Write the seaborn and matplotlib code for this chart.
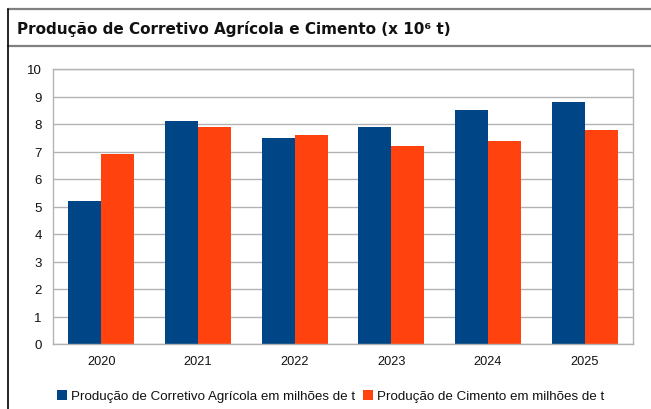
import matplotlib
matplotlib.use("Agg")
import matplotlib.pyplot as plt
import seaborn as sns
import pandas as pd
from matplotlib.lines import Line2D
from matplotlib.patches import Patch

years = ["2020", "2021", "2022", "2023", "2024", "2025"]
corretivo = [5.2, 8.1, 7.5, 7.9, 8.5, 8.8]
cimento = [6.9, 7.9, 7.6, 7.2, 7.4, 7.8]
series_names = ["Produção de Corretivo Agrícola em milhões de t",
                "Produção de Cimento em milhões de t"]
colors = ["#004586", "#ff420e"]
yticks = [0, 1, 2, 3, 4, 5, 6, 7, 8, 9, 10]
title = "Produção de Corretivo Agrícola e Cimento (x 10⁶ t)"

df = pd.DataFrame({
    "ano": years * 2,
    "valor": corretivo + cimento,
    "serie": [series_names[0]] * len(years) + [series_names[1]] * len(years),
})

sns.set_theme(style="white")
plt.rcParams["font.family"] = ["Liberation Sans", "DejaVu Sans"]

fig = plt.figure(figsize=(6.51, 4.10), dpi=100)
ax = fig.add_axes([53/651, 1-345/410, (633-53)/651, (345-70)/410])

sns.barplot(data=df, x="ano", y="valor", hue="serie", palette=colors,
            width=0.68, saturation=1, ax=ax, legend=False, linewidth=0)

ax.set_ylim(0, 10)
ax.set_xlim(-0.5, 5.5)
ax.set_yticks(yticks)
ax.set_yticklabels([str(t) for t in yticks], fontsize=9.5, color="#111111")
ax.set_xlabel("")
ax.set_ylabel("")
ax.tick_params(axis="x", which="major", length=0, pad=8, labelsize=9.2, labelcolor="#111111")
ax.set_xticks([i - 0.5 for i in range(len(years) + 1)], minor=True)
ax.tick_params(axis="x", which="minor", length=5, color="#b3b3b3", width=1)
ax.tick_params(axis="y", length=5, color="#b3b3b3", width=1, pad=3)
ax.yaxis.grid(True, color="#b3b3b3", linewidth=1)
ax.set_axisbelow(True)
for s in ax.spines.values():
    s.set_color("#b3b3b3")
    s.set_linewidth(1)

# Frame lines around title
fig.add_artist(Line2D([8/651, 1], [1-10/410, 1-10/410], color="#808080", linewidth=1.6, transform=fig.transFigure))
fig.add_artist(Line2D([8/651, 1], [1-47/410, 1-47/410], color="#808080", linewidth=1.6, transform=fig.transFigure))
fig.add_artist(Line2D([8/651, 8/651], [1-10/410, 0], color="#000000", linewidth=1.2, transform=fig.transFigure))

fig.text(17/651, 1-29/410, title, fontsize=11, fontweight="bold",
         family=["DejaVu Sans"], va="center", ha="left", color="#111111")

handles = [Patch(facecolor=c, edgecolor="none") for c in colors]
fig.legend(handles, series_names, loc="center", bbox_to_anchor=(331/651, 1-397/410),
           ncol=2, frameon=False, fontsize=9.6, handlelength=0.75, handleheight=0.75,
           handletextpad=0.3, columnspacing=0.6, labelcolor="#111111")

fig.savefig("out.png", dpi=100)
